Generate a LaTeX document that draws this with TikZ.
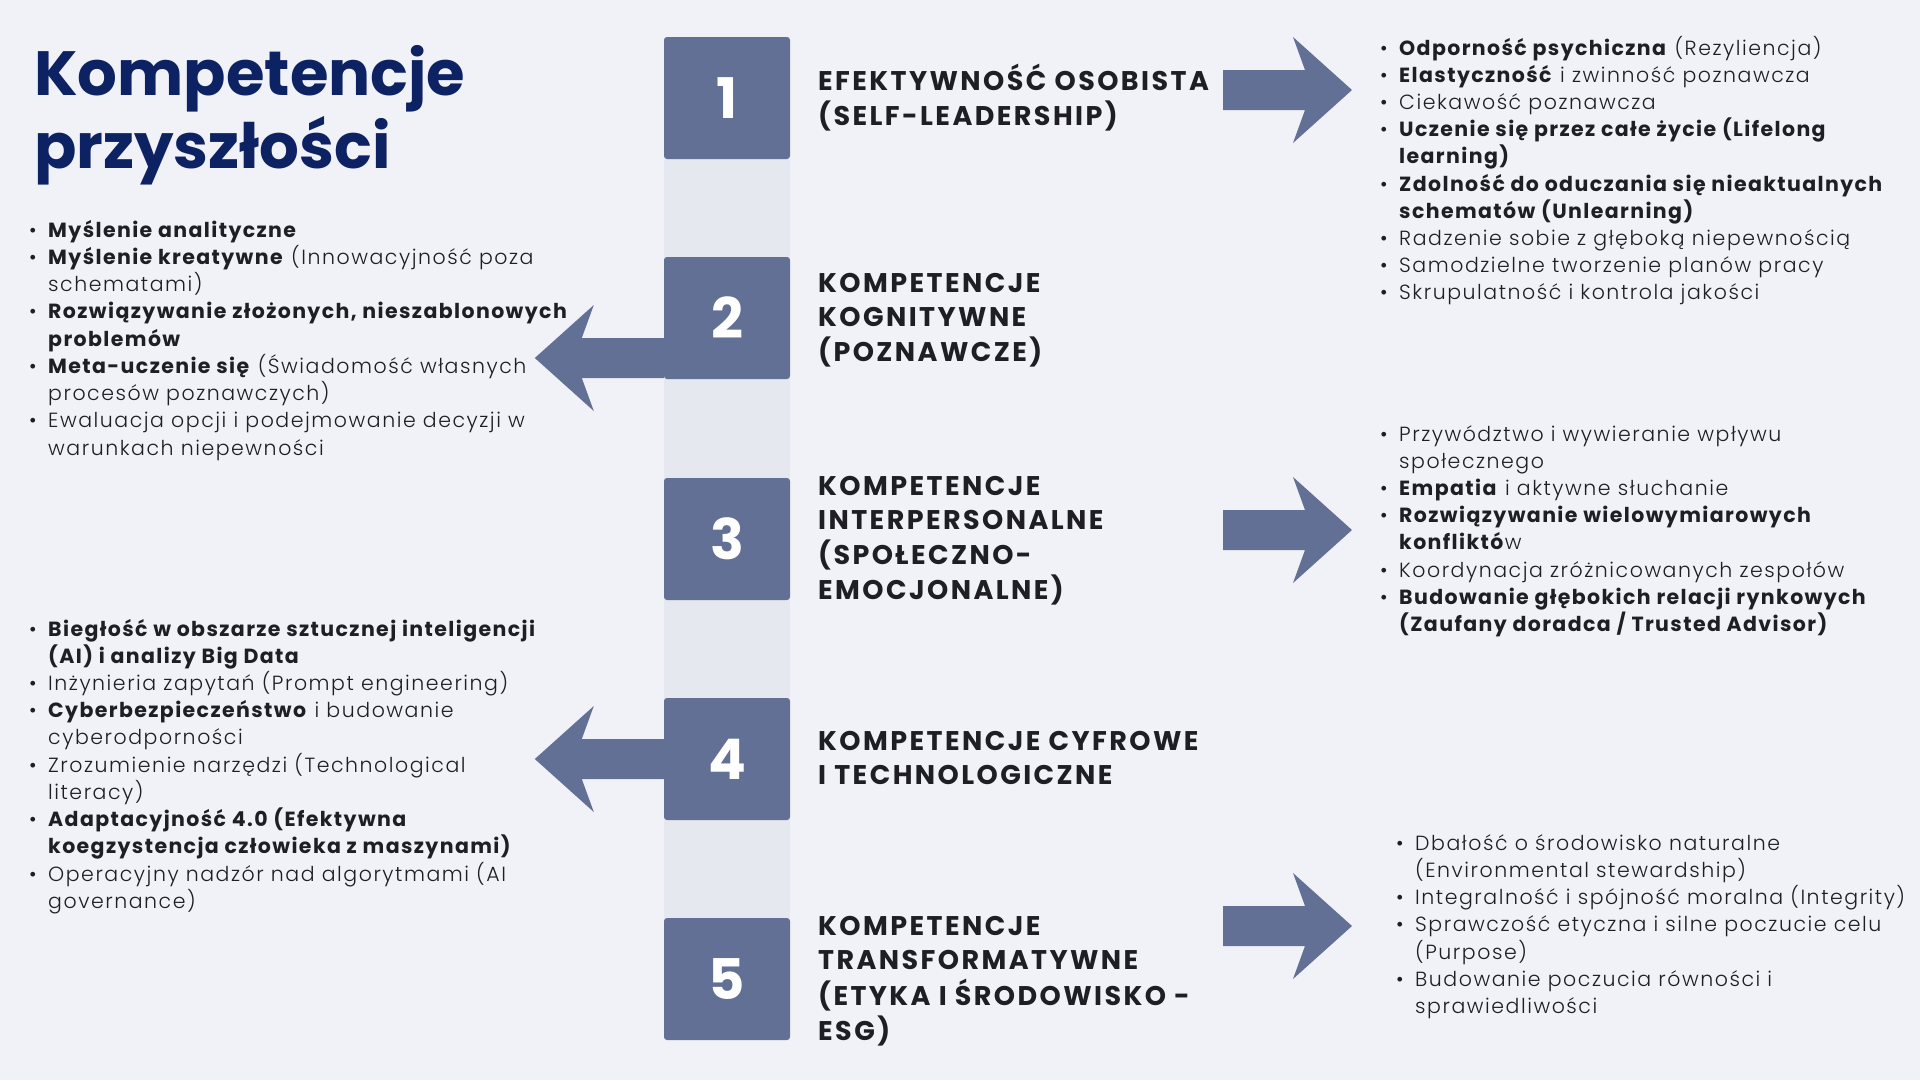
\documentclass[tikz,border=0pt]{standalone}
\usepackage{fontspec}
\IfFontExistsTF{Poppins Light}
 {\setmainfont{Poppins Light}[BoldFont={Poppins Bold},LetterSpace=7.5,BoldFeatures={LetterSpace=6.8}]}
 {\setmainfont{Poppins}[LetterSpace=7.5,BoldFeatures={LetterSpace=6.8}]}
\newfontfamily\labelfont{Poppins Bold}[LetterSpace=9]
\newfontfamily\headfont{Poppins Bold}
\definecolor{bgc}{RGB}{241,242,248}
\definecolor{stripc}{RGB}{230,232,239}
\definecolor{boxc}{RGB}{99,112,150}
\definecolor{navy}{RGB}{13,34,99}
\definecolor{txt}{RGB}{30,30,36}
\newcommand\B{\makebox[19pt][l]{\textbullet}}
\newcommand\C{\hspace*{19pt}}
\tikzset{
  lst/.style={anchor=base west, inner sep=0pt, text=txt, font=\fontsize{20.5}{27.2}\selectfont},
  lbl/.style={anchor=west, inner sep=0pt, text=txt, font=\labelfont\fontsize{27}{34}\selectfont},
  numbox/.style={fill=boxc, rounded corners=3pt, minimum width=126pt, minimum height=122pt, inner sep=0pt, text=white, font=\headfont\fontsize{56}{56}\selectfont},
  arrfill/.style={fill=boxc},
  arrowR/.pic={\fill[arrfill] (0,-20) -- (82,-20) -- (70,-53) -- (129,0) -- (70,53) -- (82,20) -- (0,20) -- cycle;},
  arrowL/.pic={\fill[arrfill] (0,-20) -- (-82,-20) -- (-70,-53) -- (-129,0) -- (-70,53) -- (-82,20) -- (0,20) -- cycle;}
}
\begin{document}
\begin{tikzpicture}[x=1pt,y=-1pt]
\fill[bgc] (0,0) rectangle (1920,1080);
\useasboundingbox (0,0) rectangle (1920,1080);
% title
\node[anchor=base west, inner sep=0pt, text=navy, font=\headfont\fontsize{62.5}{70}\selectfont] (title) at (34,95)
  {\begin{tabular}[t]{@{}l@{}}Kompetencje\\przyszłości\end{tabular}};
% boxes
\coordinate (s1) at (664,159);
\coordinate (s2) at (790,918);
\fill[stripc] (s1) rectangle (s2);
\node[numbox] (b1) at (727,98) {1};
\node[numbox] (b2) at (727,318) {2};
\node[numbox] (b3) at (727,539) {3};
\node[numbox] (b4) at (727,759) {4};
\node[numbox] (b5) at (727,979) {5};
% labels
\node[lbl] (t1) at (818,100) {\begin{tabular}{@{}l@{}}EFEKTYWNOŚĆ OSOBISTA\\(SELF-LEADERSHIP)\end{tabular}};
\node[lbl] (t2) at (818,320) {\begin{tabular}{@{}l@{}}KOMPETENCJE\\KOGNITYWNE\\(POZNAWCZE)\end{tabular}};
\node[lbl] (t3) at (818,541) {\begin{tabular}{@{}l@{}}KOMPETENCJE\\INTERPERSONALNE\\(SPOŁECZNO-\\EMOCJONALNE)\end{tabular}};
\node[lbl] (t4) at (818,761) {\begin{tabular}{@{}l@{}}KOMPETENCJE CYFROWE\\I TECHNOLOGICZNE\end{tabular}};
\node[lbl] (t5) at (818,981) {\begin{tabular}{@{}l@{}}KOMPETENCJE\\TRANSFORMATYWNE\\(ETYKA I ŚRODOWISKO -\\ESG)\end{tabular}};
% arrows
\pic at (1223,90) {arrowR};
\pic at (1223,530) {arrowR};
\pic at (1223,926) {arrowR};
\pic at (b2.west |- 0,358) {arrowL};
\pic at (b4.west |- 0,759) {arrowL};
% lists
\node[lst] (l1) at (1380,55) {\begin{tabular}[t]{@{}l@{}}
\B\textbf{Odporność psychiczna} (Rezyliencja)\\
\B\textbf{Elastyczność} i zwinność poznawcza\\
\B Ciekawość poznawcza\\
\B\textbf{Uczenie się przez całe życie (Lifelong}\\
\C\textbf{learning)}\\
\B\textbf{Zdolność do oduczania się nieaktualnych}\\
\C\textbf{schematów (Unlearning)}\\
\B Radzenie sobie z głęboką niepewnością\\
\B Samodzielne tworzenie planów pracy\\
\B Skrupulatność i kontrola jakości
\end{tabular}};
\node[lst] (l2) at (29,237) {\begin{tabular}[t]{@{}l@{}}
\B\textbf{Myślenie analityczne}\\
\B\textbf{Myślenie kreatywne} (Innowacyjność poza\\
\C schematami)\\
\B\textbf{Rozwiązywanie złożonych, nieszablonowych}\\
\C\textbf{problemów}\\
\B\textbf{Meta-uczenie się} (Świadomość własnych\\
\C procesów poznawczych)\\
\B Ewaluacja opcji i podejmowanie decyzji w\\
\C warunkach niepewności
\end{tabular}};
\node[lst] (l3) at (1380,441) {\begin{tabular}[t]{@{}l@{}}
\B Przywództwo i wywieranie wpływu\\
\C społecznego\\
\B\textbf{Empatia} i aktywne słuchanie\\
\B\textbf{Rozwiązywanie wielowymiarowych}\\
\C\textbf{konfliktó}w\\
\B Koordynacja zróżnicowanych zespołów\\
\B\textbf{Budowanie głębokich relacji rynkowych}\\
\C\textbf{(Zaufany doradca / Trusted Advisor)}
\end{tabular}};
\node[lst] (l4) at (29,636) {\begin{tabular}[t]{@{}l@{}}
\B\textbf{Biegłość w obszarze sztucznej inteligencji}\\
\C\textbf{(AI) i analizy Big Data}\\
\B Inżynieria zapytań (Prompt engineering)\\
\B\textbf{Cyberbezpieczeństwo} i budowanie\\
\C cyberodporności\\
\B Zrozumienie narzędzi (Technological\\
\C literacy)\\
\B\textbf{Adaptacyjność 4.0 (Efektywna}\\
\C\textbf{koegzystencja człowieka z maszynami)}\\
\B Operacyjny nadzór nad algorytmami (AI\\
\C governance)
\end{tabular}};
\node[lst] (l5) at (1396,850) {\begin{tabular}[t]{@{}l@{}}
\B Dbałość o środowisko naturalne\\
\C(Environmental stewardship)\\
\B Integralność i spójność moralna (Integrity)\\
\B Sprawczość etyczna i silne poczucie celu\\
\C(Purpose)\\
\B Budowanie poczucia równości i\\
\C sprawiedliwości
\end{tabular}};
\end{tikzpicture}
\end{document}
